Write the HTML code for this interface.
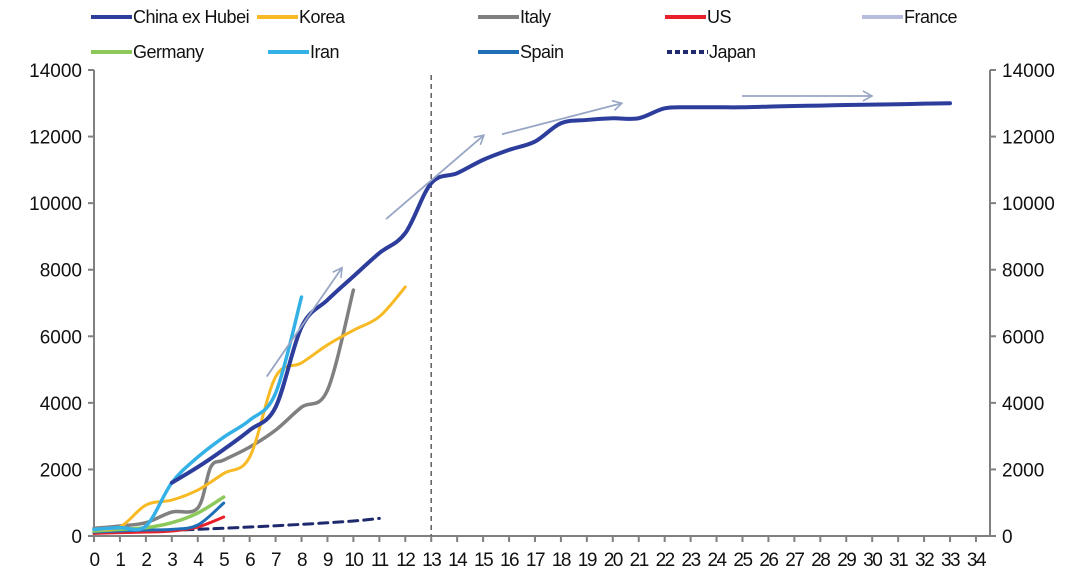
<!DOCTYPE html>
<html><head><meta charset="utf-8"><style>
body{margin:0;background:#fff;}
svg{display:block;font-family:"Liberation Sans",Arial,sans-serif;}
</style></head><body>
<svg id="chart" width="1080" height="580" viewBox="0 0 1080 580"></svg>
<script>
const xTicks=[...Array(35).keys()];
const yTicks=[0,2000,4000,6000,8000,10000,12000,14000];
const chinaX=[3,4,5,6,7,8,9,10,11,12,13,14,15,16,17,18,19,20,21,22,23,24,25,26,27,28,29,30,31,32,33];
const chinaY=[1600,2070,2600,3180,3870,6280,7090,7800,8500,9100,10600,10900,11300,11600,11850,12400,12500,12550,12550,12850,12880,12880,12880,12900,12920,12930,12950,12960,12970,12990,13000];
const koreaX=[0,1,2,3,4,5,6,7,8,9,10,11,12];
const koreaY=[200,270,930,1080,1380,1880,2370,4780,5200,5740,6180,6590,7480];
const italyX=[0,1,2,3,4,4.5,5,6,7,8,9,10];
const italyY=[230,300,400,720,840,2070,2280,2670,3180,3870,4380,7390];
const iranX=[0,1,2,3,4,5,6,7,8];
const iranY=[200,250,300,1600,2370,2970,3480,4290,7180];
const germanyX=[0,1,2,3,4,5];
const germanyY=[150,200,250,400,690,1170];
const spainX=[0,1,2,3,4,5];
const spainY=[120,150,180,200,330,990];
const usX=[0,1,2,3,4,5];
const usY=[80,100,120,150,270,570];
const japanX=[0,2,4,6,8,10,11];
const japanY=[100,150,200,270,350,450,530];
const arrows=[[6.66,4790,9.56,8060],[11.26,9520,15.03,12040],[15.73,12070,20.35,13000],[24.98,13220,29.99,13220]];

const svg=document.getElementById('chart');
const NS='http://www.w3.org/2000/svg';
const X0=94,XU=25.94,Y0=536,YU=466/14000;
const sx=v=>X0+v*XU, sy=v=>Y0-v*YU;
function mk(tag,attrs,parent){const e=document.createElementNS(NS,tag);for(const k in attrs)e.setAttribute(k,attrs[k]);(parent||svg).appendChild(e);return e;}
function smooth(xs,ys){const p=xs.map((x,i)=>[sx(x),sy(ys[i])]);let d='M'+p[0][0]+','+p[0][1];
for(let i=0;i<p.length-1;i++){const a=p[Math.max(0,i-1)],b=p[i],c=p[i+1],e=p[Math.min(p.length-1,i+2)];
const c1=[b[0]+(c[0]-a[0])/6,b[1]+(c[1]-a[1])/6],c2=[c[0]-(e[0]-b[0])/6,c[1]-(e[1]-b[1])/6];
d+=' C'+c1[0]+','+c1[1]+' '+c2[0]+','+c2[1]+' '+c[0]+','+c[1];}return d;}

const defs=mk('defs',{});
const m=mk('marker',{id:'ah',markerWidth:'12',markerHeight:'12',refX:'10',refY:'6',orient:'auto',markerUnits:'userSpaceOnUse'},defs);
mk('path',{d:'M1,1 L10,6 L1,11',fill:'none',stroke:'#97a6c4','stroke-width':'1.6'},m);

const ax=mk('g',{});


mk('line',{x1:X0,y1:70,x2:X0,y2:Y0,stroke:'#808080','stroke-width':2},ax);
mk('line',{x1:990,y1:70,x2:990,y2:Y0,stroke:'#808080','stroke-width':2},ax);
mk('line',{x1:X0,y1:Y0,x2:990,y2:Y0,stroke:'#808080','stroke-width':2},ax);
yTicks.forEach(v=>{
 mk('line',{x1:X0-6,y1:sy(v),x2:X0,y2:sy(v),stroke:'#808080','stroke-width':2},ax);
 mk('line',{x1:990,y1:sy(v),x2:996,y2:sy(v),stroke:'#808080','stroke-width':2},ax);
 const t=mk('text',{x:X0-12,y:sy(v)+7,'text-anchor':'end','font-size':19,fill:'#111'},ax);t.textContent=v;
 
 
 const t2=mk('text',{x:1002,y:sy(v)+7,'font-size':19,fill:'#111'},ax);t2.textContent=v;
 
 
});
xTicks.forEach(v=>{
 mk('line',{x1:sx(v),y1:Y0,x2:sx(v),y2:Y0+6,stroke:'#808080','stroke-width':2},ax);
 const t=mk('text',{x:sx(v),y:Y0+30,'text-anchor':'middle','font-size':19,fill:'#111','letter-spacing':'-1.5'},ax);t.textContent=v;
 
 
});
const vl=mk('line',{x1:sx(13),y1:75,x2:sx(13),y2:Y0,stroke:'#666','stroke-width':1.6,'stroke-dasharray':'5,4'});



const series=[
 ['japan',japanX,japanY,'#1f2a6e',3,'9,6'],
 ['us',usX,usY,'#e8202a',3,''],
 ['spain',spainX,spainY,'#1f6fb8',3,''],
 ['germany',germanyX,germanyY,'#8cc85a',3.5,''],
 ['italy',italyX,italyY,'#808080',3.5,''],
 ['korea',koreaX,koreaY,'#f7b924',3,''],
 ['iran',iranX,iranY,'#33b1e6',3.5,''],
 ['china-ex-hubei',chinaX,chinaY,'#2c3d9c',4,'']
];
series.forEach(s=>{
 const p=mk('path',{d:smooth(s[1],s[2]),fill:'none',stroke:s[3],'stroke-width':s[4],'stroke-dasharray':s[5],'stroke-linecap':'round'});
 
 
});
arrows.forEach(a=>{
 const l=mk('line',{x1:sx(a[0]),y1:sy(a[1]),x2:sx(a[2]),y2:sy(a[3]),stroke:'#97a6c4','stroke-width':1.8,'marker-end':'url(#ah)'});
 
 
});

const legend=[['China ex Hubei','#2c3d9c',91,17,''],['Korea','#f7b924',257,17,''],['Italy','#808080',478,17,''],['US','#e8202a',665,17,''],['France','#b8bcdc',862,17,''],
['Germany','#8cc85a',91,52,''],['Iran','#33b1e6',268,52,''],['Spain','#1f6fb8',478,52,''],['Japan','#1f2a6e',667,52,'5,3']];
legend.forEach(l=>{
 const g=mk('g',{});
 
 
 mk('line',{x1:l[2],y1:l[3],x2:l[2]+41,y2:l[3],stroke:l[1],'stroke-width':4,'stroke-dasharray':l[4]},g);
 const t=mk('text',{x:l[2]+42,y:l[3]+6,'font-size':18,fill:'#111','letter-spacing':'-0.5'},g);t.textContent=l[0];
});
</script>
</body></html>
